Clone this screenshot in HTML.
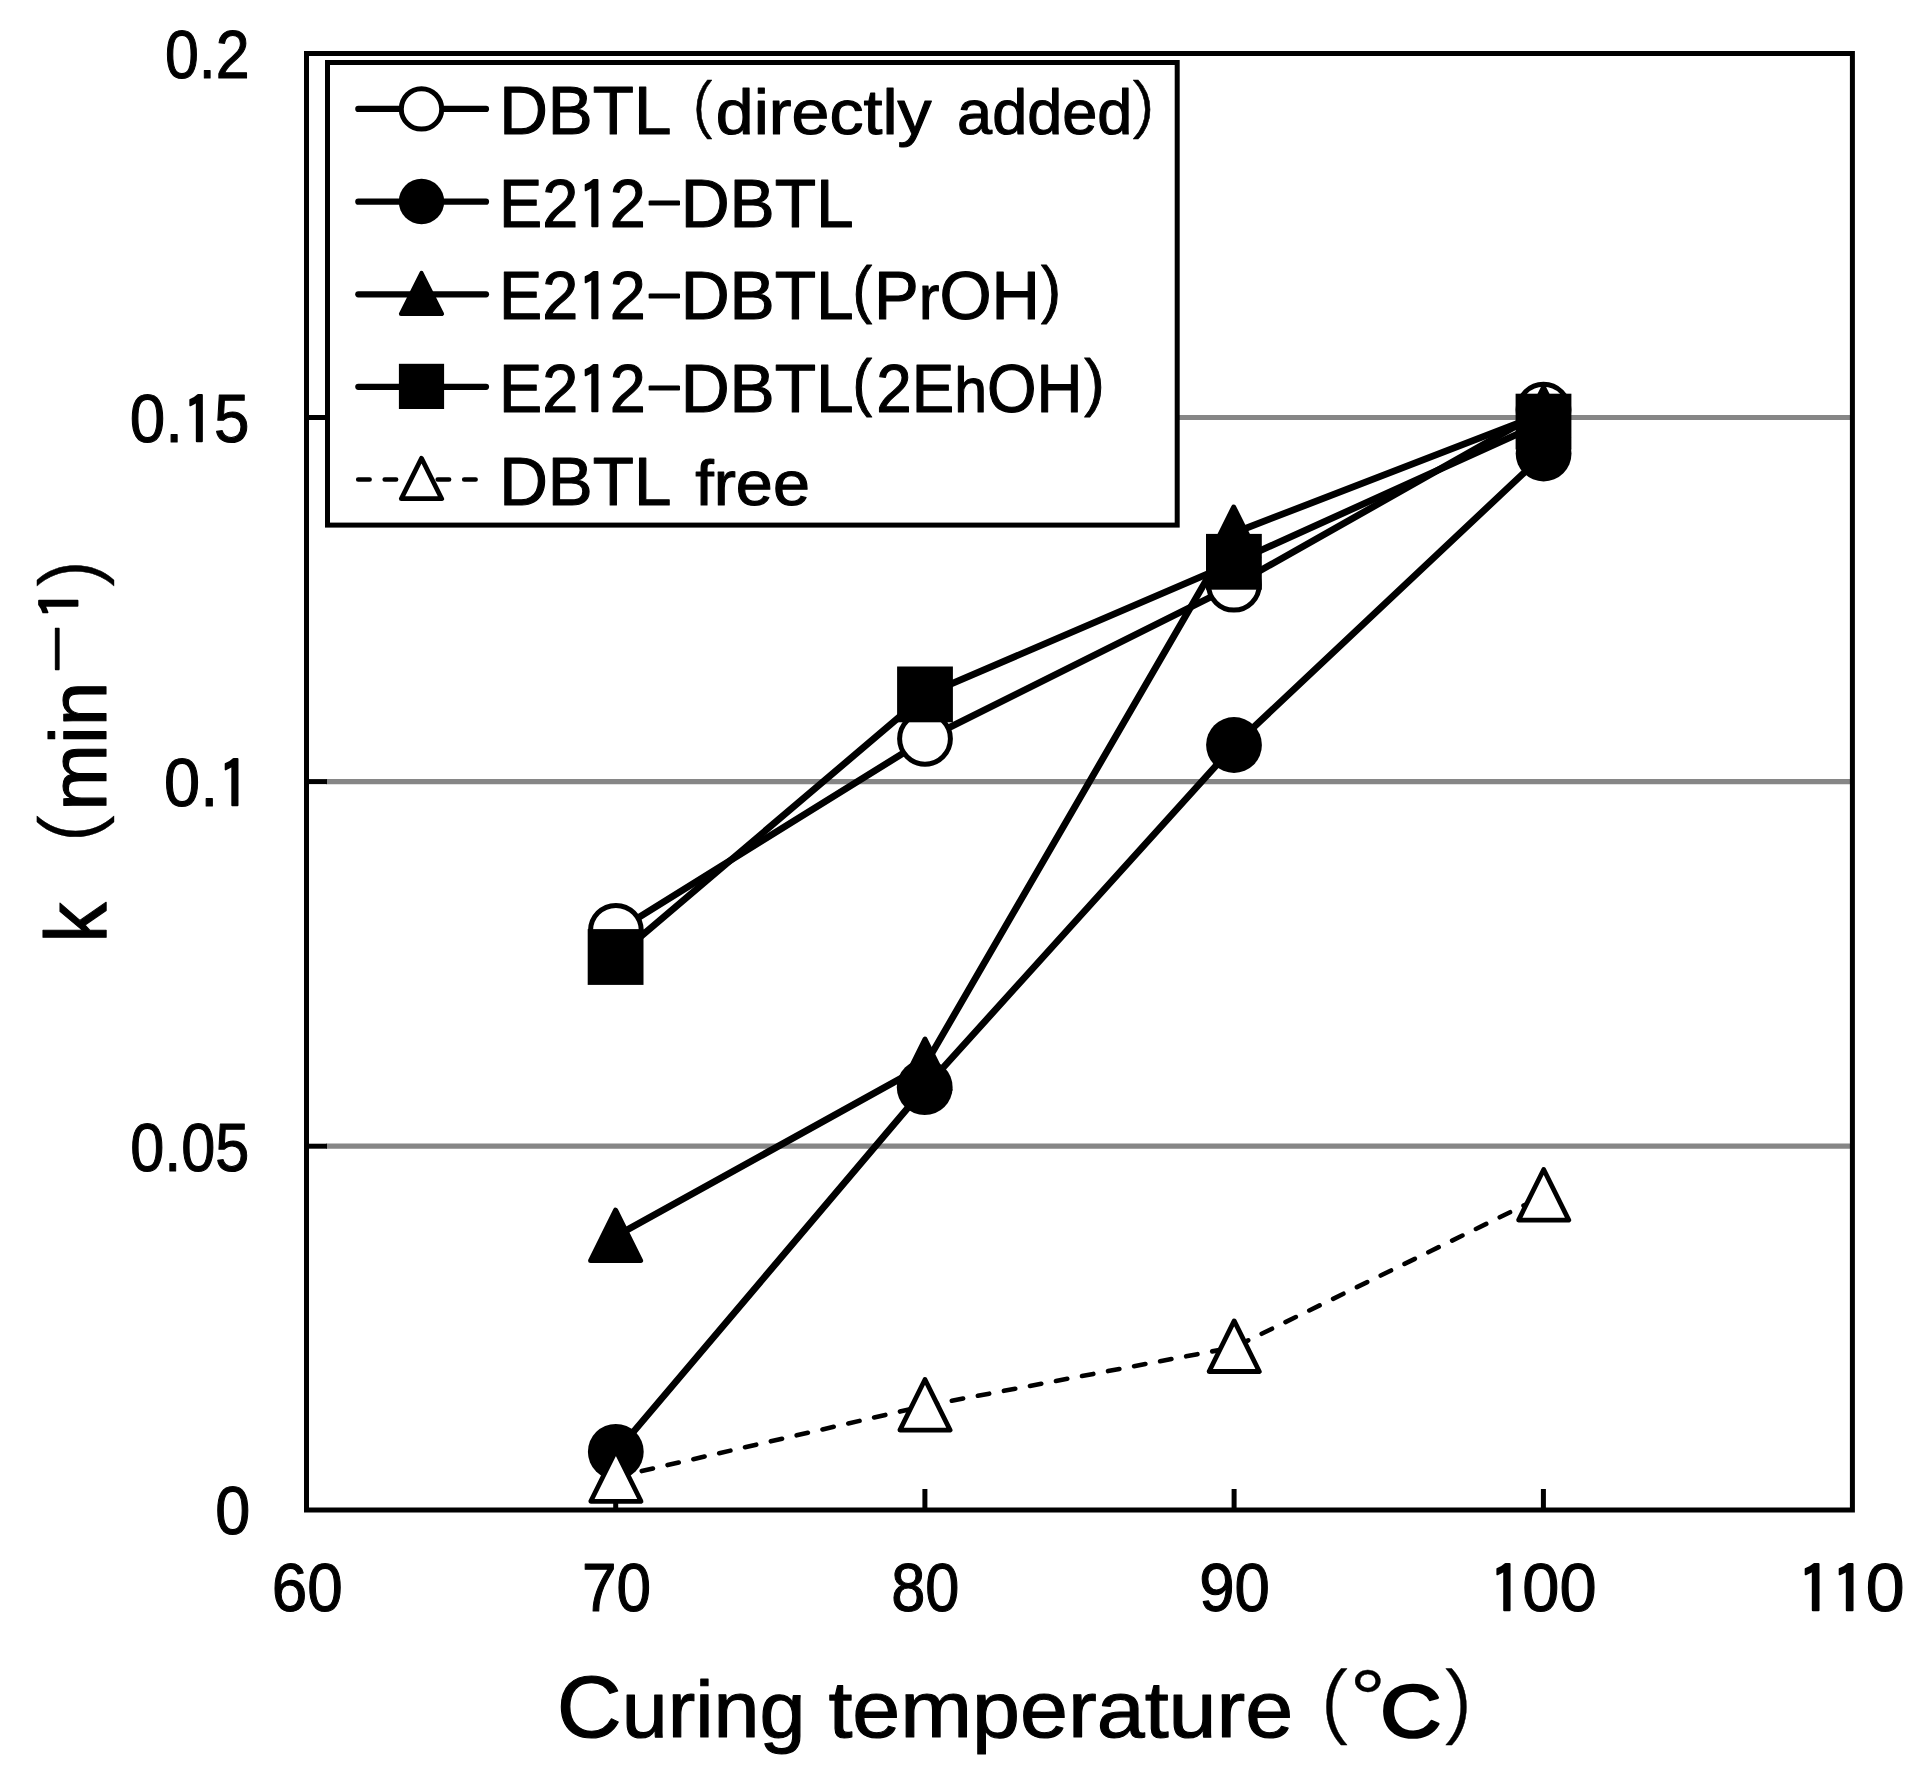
<!DOCTYPE html>
<html lang="en"><head><meta charset="utf-8"><title>Curing rate constant k versus curing temperature</title>
<style>html,body{margin:0;padding:0;background:#fff}svg{display:block}text{font-family:'Liberation Sans', 'IPAGothic', sans-serif;fill:#000;stroke:#000;stroke-width:1.1;stroke-linejoin:round}</style></head><body>
<svg width="1923" height="1770" viewBox="0 0 1923 1770" role="img" aria-label="k (min-1) versus curing temperature for DBTL catalysts">
<rect x="0" y="0" width="1923" height="1770" fill="#fff"/>
<g stroke="#868686" stroke-width="5.2">
<line x1="326" y1="417.5" x2="1850" y2="417.5"/>
<line x1="326" y1="781.6" x2="1850" y2="781.6"/>
<line x1="326" y1="1146.2" x2="1850" y2="1146.2"/>
</g>
<g stroke="#000" stroke-width="5">
<line x1="306.5" y1="417.5" x2="327" y2="417.5"/>
<line x1="306.5" y1="781.6" x2="327" y2="781.6"/>
<line x1="306.5" y1="1146.2" x2="327" y2="1146.2"/>
<line x1="615.7" y1="1489" x2="615.7" y2="1510"/>
<line x1="924.9" y1="1489" x2="924.9" y2="1510"/>
<line x1="1234.1" y1="1489" x2="1234.1" y2="1510"/>
<line x1="1543.4" y1="1489" x2="1543.4" y2="1510"/>
</g>
<rect x="306.5" y="53.5" width="1545.9" height="1456.5" fill="none" stroke="#000" stroke-width="5"/>
<g>
<polyline points="615.9,931.6 925.0,739.6 1233.9,585.5 1543.5,410.5" fill="none" stroke="#000" stroke-width="6.8" stroke-linejoin="round" />
<circle cx="615.9" cy="930.8" r="25.4" fill="#fff" stroke="#000" stroke-width="5"/>
<circle cx="925.0" cy="738.8" r="25.4" fill="#fff" stroke="#000" stroke-width="5"/>
<circle cx="1233.9" cy="584.7" r="25.4" fill="#fff" stroke="#000" stroke-width="5"/>
<circle cx="1543.5" cy="409.7" r="25.4" fill="#fff" stroke="#000" stroke-width="5"/>
<polyline points="615.8,1452.6 924.7,1088.0 1234.0,745.8 1543.6,454.3" fill="none" stroke="#000" stroke-width="6.8" stroke-linejoin="round" />
<circle cx="615.8" cy="1451.8" r="27.9" fill="#000"/>
<circle cx="924.7" cy="1087.2" r="27.9" fill="#000"/>
<circle cx="1234.0" cy="745.0" r="27.9" fill="#000"/>
<circle cx="1543.6" cy="453.5" r="27.9" fill="#000"/>
<polyline points="615.6,1236.2 925.0,1065.1 1233.7,533.0 1543.5,413.3" fill="none" stroke="#000" stroke-width="6.8" stroke-linejoin="round" />
<polygon points="615.6,1210.2 640.6,1260.6 590.6,1260.6" fill="#000" stroke="#000" stroke-width="5" stroke-linejoin="round"/>
<polygon points="925.0,1039.1 950.0,1089.5 900.0,1089.5" fill="#000" stroke="#000" stroke-width="5" stroke-linejoin="round"/>
<polygon points="1233.7,507.0 1258.7,557.4 1208.7,557.4" fill="#000" stroke="#000" stroke-width="5" stroke-linejoin="round"/>
<polygon points="1543.5,387.3 1568.5,437.7 1518.5,437.7" fill="#000" stroke="#000" stroke-width="5" stroke-linejoin="round"/>
<polyline points="615.6,957.8 925.0,695.2 1233.9,562.6 1543.5,422.4" fill="none" stroke="#000" stroke-width="6.8" stroke-linejoin="round" />
<rect x="587.7" y="929.1" width="55.8" height="55.8" fill="#000"/>
<rect x="897.1" y="666.5" width="55.8" height="55.8" fill="#000"/>
<rect x="1206.0" y="533.9" width="55.8" height="55.8" fill="#000"/>
<rect x="1515.6" y="393.7" width="55.8" height="55.8" fill="#000"/>
<polyline points="615.9,1477.0 925.0,1405.8 1234.2,1347.2 1543.7,1195.8" fill="none" stroke="#000" stroke-width="4.6" stroke-linecap="round" stroke-dasharray="11.5 15"/>
<polygon points="615.9,1450.7 641.0,1501.3 590.8,1501.3" fill="#fff" stroke="#000" stroke-width="4.8" stroke-linejoin="round"/>
<polygon points="925.0,1379.5 950.1,1430.1 899.9,1430.1" fill="#fff" stroke="#000" stroke-width="4.8" stroke-linejoin="round"/>
<polygon points="1234.2,1320.9 1259.3,1371.5 1209.1,1371.5" fill="#fff" stroke="#000" stroke-width="4.8" stroke-linejoin="round"/>
<polygon points="1543.7,1169.5 1568.8,1220.1 1518.6,1220.1" fill="#fff" stroke="#000" stroke-width="4.8" stroke-linejoin="round"/>
</g>
<rect x="327.5" y="62.5" width="849.7" height="462.6" fill="#fff" stroke="#000" stroke-width="5"/>
<g stroke="#000" stroke-width="6.2" stroke-linecap="round">
<line x1="358.3" y1="108.9" x2="486" y2="108.9"/>
<line x1="358.3" y1="201.7" x2="486" y2="201.7"/>
<line x1="358.3" y1="294.3" x2="486" y2="294.3"/>
<line x1="358.3" y1="386.8" x2="486" y2="386.8"/>
</g>
<line x1="358.2" y1="479.5" x2="486" y2="479.5" stroke="#000" stroke-width="4.6" stroke-linecap="round" stroke-dasharray="11.4 15.1"/>
<circle cx="421.5" cy="108.9" r="20.2" fill="#fff" stroke="#000" stroke-width="5"/>
<circle cx="421.5" cy="201.5" r="22.7" fill="#000"/>
<polygon points="421.5,272.8 442.1,314.0 400.9,314.0" fill="#000" stroke="#000" stroke-width="4" stroke-linejoin="round"/>
<rect x="398.9" y="363.8" width="45.2" height="45.2" fill="#000"/>
<polygon points="421.5,458.3 441.7,498.7 401.3,498.7" fill="#fff" stroke="#000" stroke-width="4.8" stroke-linejoin="round"/>
<g>
<text transform="translate(499.25 133.50) scale(0.9904 1.0000)" font-size="68">DBTL</text>
<text transform="translate(659.73 134.01) scale(0.8288 0.9691)" font-size="68"><tspan stroke-width="0.6">（</tspan></text>
<text transform="translate(715.84 133.50) scale(1.0813 1.0000)" font-size="63">directly</text>
<text transform="translate(957.10 133.50) scale(1.0012 1.0000)" font-size="63">added</text>
<text transform="translate(1128.47 134.01) scale(0.9178 0.9691)" font-size="68"><tspan stroke-width="0.6">）</tspan></text>
<text transform="translate(499.04 226.50) scale(0.9528 1.0000)" font-size="68">E2<tspan font-family="IPAGothic" font-size="66" stroke-width="2.1" baseline-shift="-3">1</tspan>2</text>
<text transform="translate(644.26 217.05) scale(1.7719 0.7704)" font-size="68">-</text>
<text transform="translate(680.72 226.50) scale(0.9952 1.0000)" font-size="68">DBTL</text>
<text transform="translate(499.04 319.00) scale(0.9528 1.0000)" font-size="68">E2<tspan font-family="IPAGothic" font-size="66" stroke-width="2.1" baseline-shift="-3">1</tspan>2</text>
<text transform="translate(644.26 309.55) scale(1.7719 0.7704)" font-size="68">-</text>
<text transform="translate(680.72 319.00) scale(0.9952 1.0000)" font-size="68">DBTL</text>
<text transform="translate(499.04 411.60) scale(0.9528 1.0000)" font-size="68">E2<tspan font-family="IPAGothic" font-size="66" stroke-width="2.1" baseline-shift="-3">1</tspan>2</text>
<text transform="translate(644.26 402.15) scale(1.7719 0.7704)" font-size="68">-</text>
<text transform="translate(680.72 411.60) scale(0.9952 1.0000)" font-size="68">DBTL</text>
<text transform="translate(852.50 311.31) scale(0.8670 0.9172)" font-size="68">(</text>
<text transform="translate(874.07 319.00) scale(0.9857 1.0000)" font-size="68">P<tspan font-size="63">r</tspan>OH</text>
<text transform="translate(1040.93 311.31) scale(0.8824 0.9172)" font-size="68">)</text>
<text transform="translate(852.50 403.91) scale(0.8670 0.9172)" font-size="68">(</text>
<text transform="translate(876.31 411.60) scale(0.9370 1.0000)" font-size="68">2E<tspan font-size="63">h</tspan>OH</text>
<text transform="translate(1084.34 403.91) scale(0.8981 0.9172)" font-size="68">)</text>
<text transform="translate(499.25 504.60) scale(0.9904 1.0000)" font-size="68">DBTL</text>
<text transform="translate(695.20 504.60) scale(1.0569 1.0000)" font-size="63">free</text>
<text transform="translate(164.91 77.90) scale(0.8956 1.0000)" font-size="68">0.2</text>
<text transform="translate(129.82 441.90) scale(0.9380 1.0000)" font-size="68">0.<tspan font-family="IPAGothic" font-size="66" stroke-width="2.1" baseline-shift="-3">1</tspan>5</text>
<text transform="translate(164.09 806.00) scale(0.9553 1.0000)" font-size="68">0.<tspan font-family="IPAGothic" font-size="66" stroke-width="2.1" baseline-shift="-3">1</tspan></text>
<text transform="translate(130.20 1170.60) scale(0.9008 1.0000)" font-size="68">0.05</text>
<text transform="translate(215.25 1534.00) scale(0.9265 1.0000)" font-size="68">0</text>
<text transform="translate(271.76 1611.00) scale(0.9389 1.0000)" font-size="68">60</text>
<text transform="translate(582.02 1611.00) scale(0.9135 1.0000)" font-size="68">70</text>
<text transform="translate(891.20 1611.00) scale(0.9016 1.0000)" font-size="68">80</text>
<text transform="translate(1199.21 1611.00) scale(0.9354 1.0000)" font-size="68">90</text>
<text transform="translate(1489.86 1611.00) scale(0.9831 1.0000)" font-size="68"><tspan font-family="IPAGothic" font-size="66" stroke-width="2.1" baseline-shift="-3">1</tspan>00</text>
<text transform="translate(1797.86 1611.00) scale(1.0289 1.0000)" font-size="68"><tspan font-family="IPAGothic" font-size="66" stroke-width="2.1" baseline-shift="-3">1</tspan><tspan font-family="IPAGothic" font-size="66" stroke-width="2.1" baseline-shift="-3">1</tspan>0</text>
<text transform="translate(556.78 1737.30) scale(1.0336 1.0000)" font-size="87">C<tspan font-size="80">uring</tspan></text>
<text transform="translate(828.38 1737.30) scale(1.0780 1.0000)" font-size="80">temperature</text>
<text transform="translate(1276.05 1738.77) scale(0.8837 0.9809)" font-size="87"><tspan stroke-width="0.4">（</tspan></text>
<text transform="translate(1349.77 1737.30) scale(1.1281 1.0000)" font-size="87"><tspan dy="-11" font-size="80" stroke-width="0.3">°</tspan><tspan dy="11" dx="-5" font-size="75" stroke-width="2.6">C</tspan></text>
<text transform="translate(1440.07 1738.77) scale(0.8840 0.9809)" font-size="87"><tspan stroke-width="0.4">）</tspan></text>
</g>
<g transform="translate(106.4 938) rotate(-90)">
<text transform="translate(-4.65 0.00) scale(0.9295 1.0000)" font-size="87">k</text>
<text transform="translate(50.02 1.82) scale(0.8965 0.9885)" font-size="87"><tspan stroke-width="0.4">（</tspan></text>
<text transform="translate(127.16 0.00) scale(1.0032 1.0000)" font-size="80">min</text>
<text transform="translate(264.70 -31.66) scale(1.4500 0.9107)" font-size="58">−</text>
<text transform="translate(318.30 -29.08) scale(1.1115 0.9762)" font-size="58"><tspan font-family="IPAGothic" font-size="56.3" stroke-width="1.8" baseline-shift="-2.6">1</tspan></text>
<text transform="translate(346.33 1.82) scale(0.8755 0.9885)" font-size="87"><tspan stroke-width="0.4">）</tspan></text>
</g>
</svg></body></html>
